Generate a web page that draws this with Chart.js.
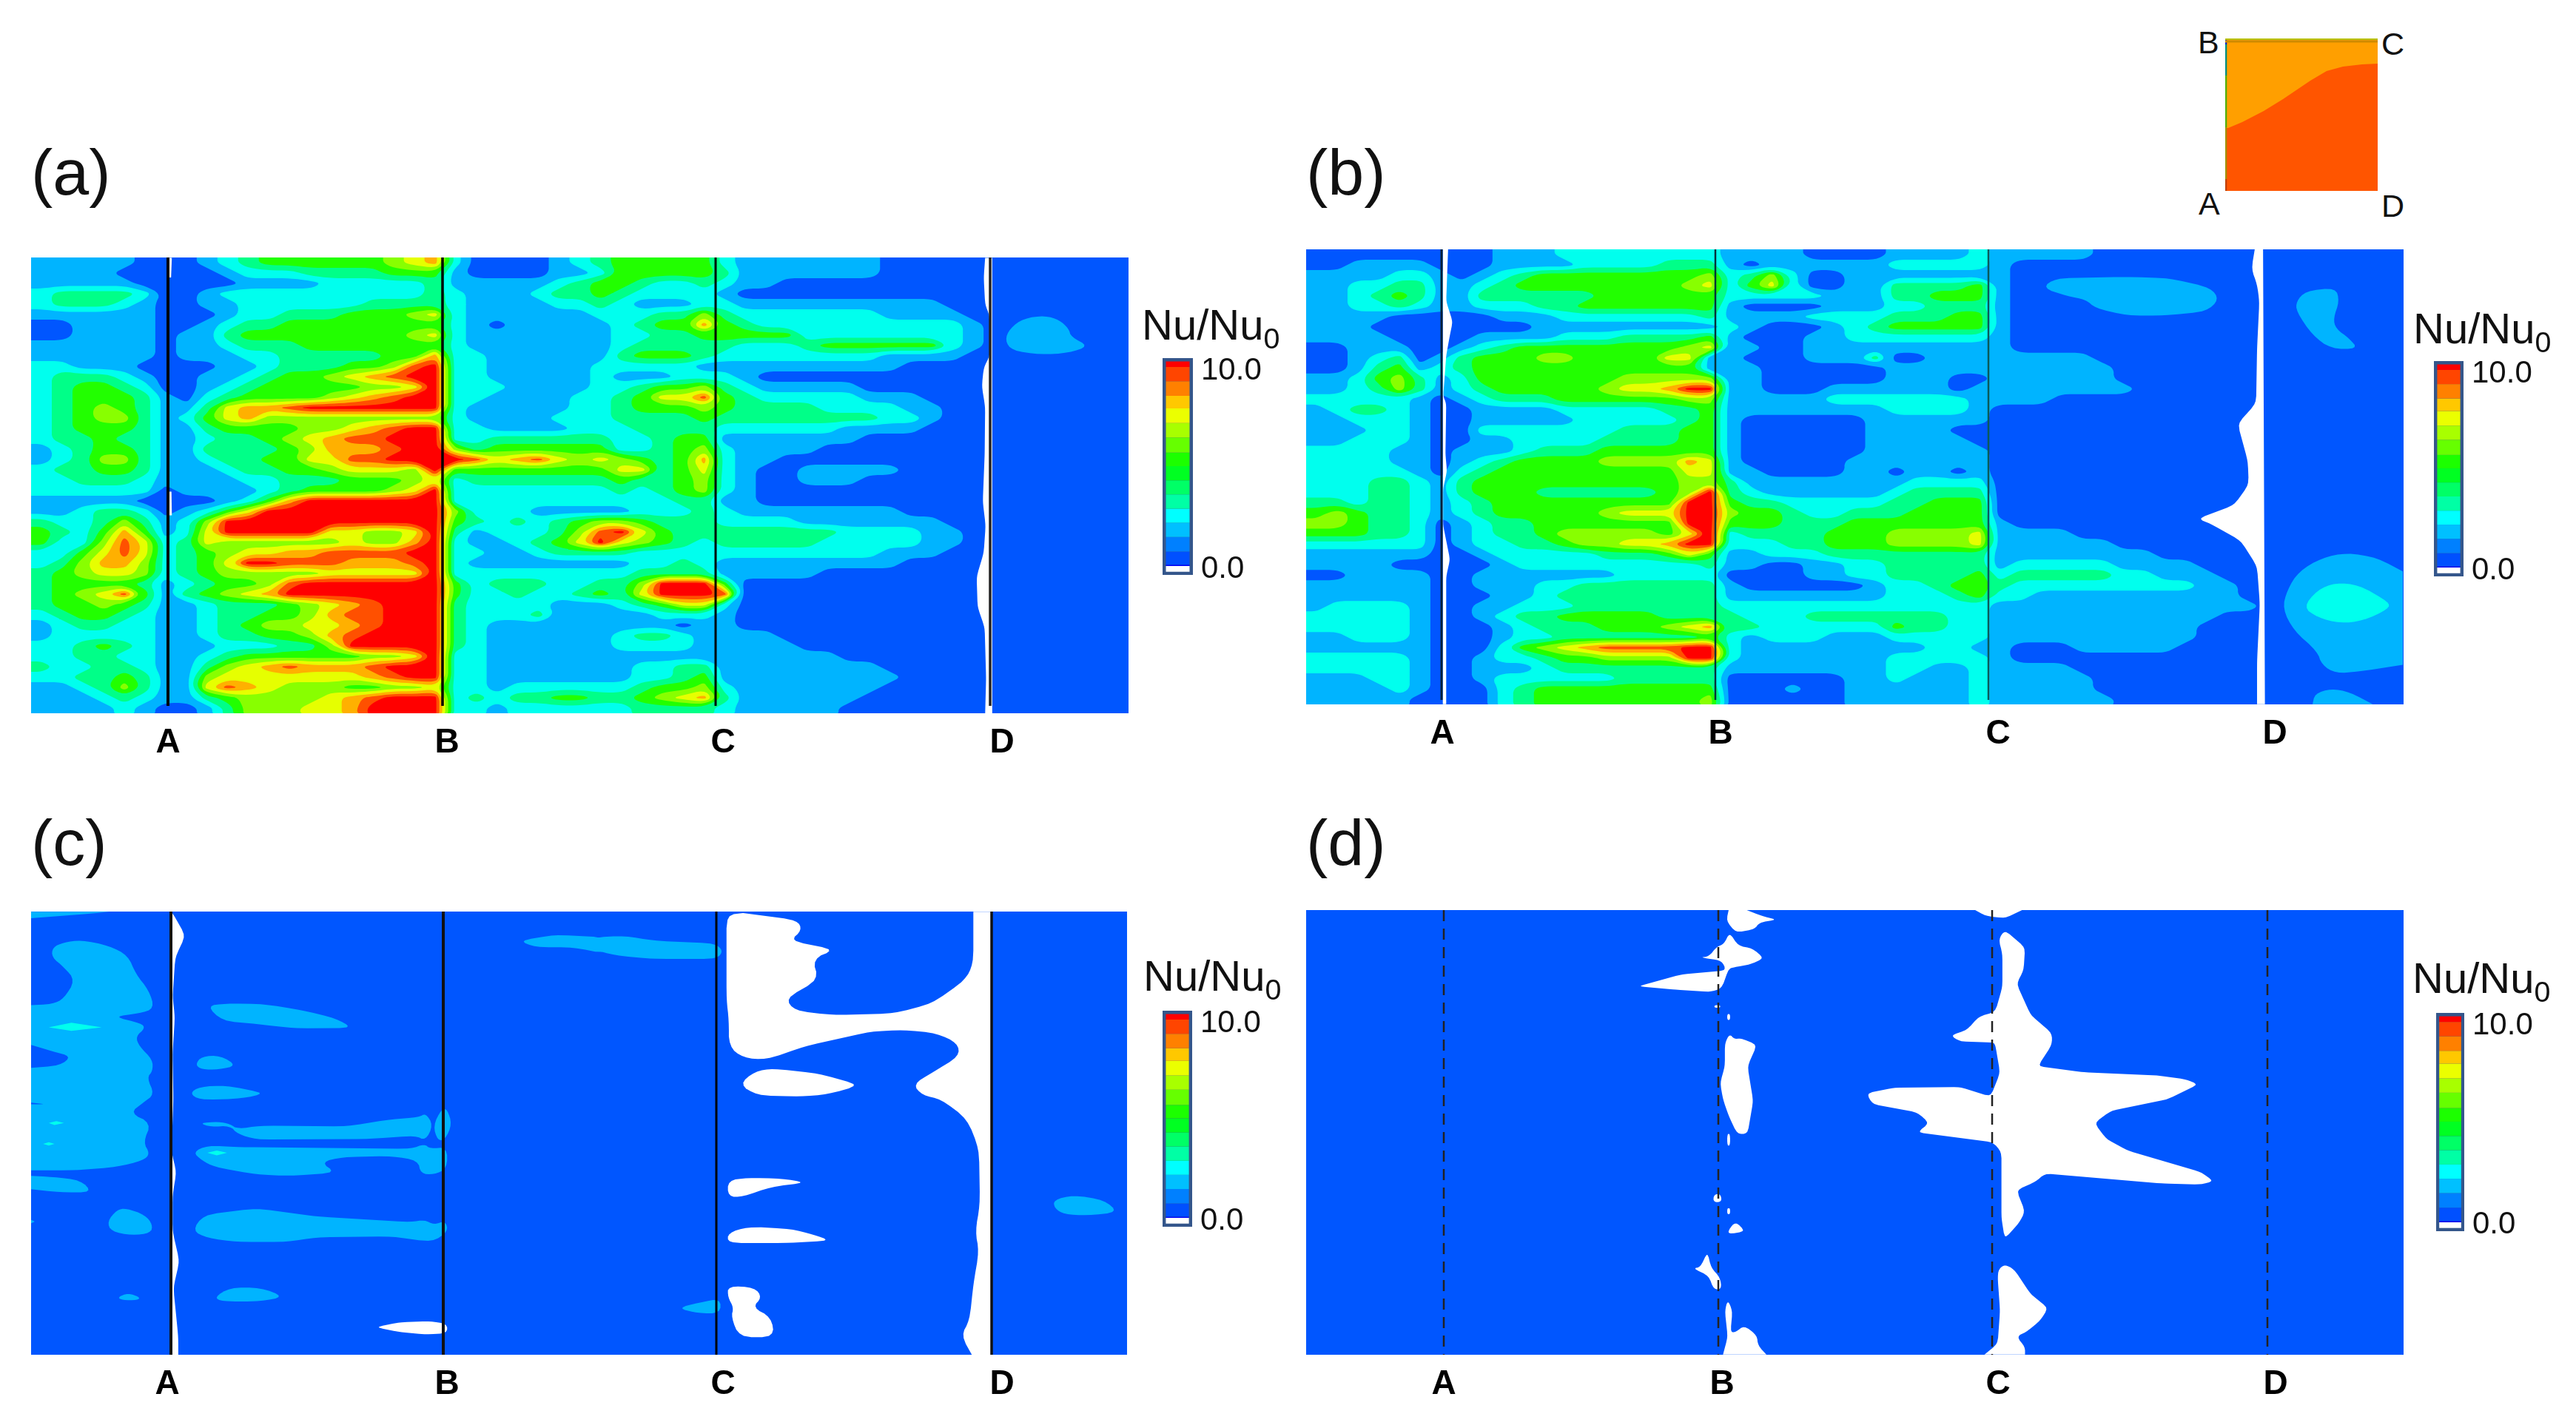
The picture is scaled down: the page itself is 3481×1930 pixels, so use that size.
<!DOCTYPE html>
<html><head><meta charset="utf-8">
<script src="https://cdn.jsdelivr.net/npm/chart.js@4/dist/chart.umd.js"></script>
<style>
html,body{margin:0;padding:0;background:#fff;width:3481px;height:1930px;overflow:hidden;font-family:"Liberation Sans",Arial,sans-serif;color:#111}
canvas{position:absolute;filter:blur(.7px)}
.t{position:absolute;line-height:1;white-space:nowrap}
sub{font-size:.68em;position:relative;top:.3em;vertical-align:baseline;line-height:0}
</style></head><body>
<script>
const levelColors=['#0056ff','#00b4ff','#00ffee','#00ff88','#22ff00','#88ff00','#e6ff00','#ffb000','#ff5000','#ff0000'];
const panelLabels=['A','B','C','D'];

const rowsA=[
"1111100012344444456720000123"+"444442"+"1111111",
"1111000001222333344410000112"+"444443"+"1111111",
"1111100000111122222311111234"+"432232"+"11",
"2333320012222222222321112334"+"32222"+"1",
"2333210011222222333321111223"+"21112"+"2"+"1111111111",
"1111110001223334445621111112"+"22335"+"3"+"22222221111",
"0011110012334444444421011111"+"23447"+"4"+"3"+"2222222222"+"1",
"0011110113444444445621111111"+"22334"+"4"+"444"+"22222222"+"1",
"1111110112333444444421111111"+"23333"+"3"+"222"+"3"+"444444"+"2"+"1",
"1111110111223333344722111111"+"34443"+"2"+"2222222"+"1111",
"2211100001123334458922111112"+"2222"+"1"+"1"+"11111111",
"2333210011234456789922111112"+"11122"+"2"+"1"+"0",
"2344320012344444556922211112"+"23445"+"3"+"2"+"11111",
"2344431023444456789922111122"+"34668"+"4"+"3"+"22222"+"111",
"2345431136778999999921111122"+"34445"+"4"+"3333"+"2222"+"11",
"2345531246755555555521111222"+"33334"+"3"+"3333333"+"22"+"1",
"2344431134444556789922111122"+"23333"+"2"+"22222"+"1111",
"2334331123345678899922333333"+"22344"+"1"+"111111",
"1234431133334577789953444444"+"22345"+"2"+"1111",
"1235531123344668899998678656"+"54347"+"2"+"11",
"2334431112334456665944444444"+"66346"+"2"+"1"+"00"+"11111",
"2233321111223334445623333333"+"43345"+"2"+"1"+"00"+"111",
"2222220111123444456922222222"+"32345"+"2"+"1",
"1111100001247999999922222222"+"22233"+"1"+"1",
"1123320124699999999952221111"+"12223"+"2"+"11111111",
"3223531259999999999943232345"+"54333"+"2"+"222"+"1111111",
"4324741269999966556931222358"+"96433"+"333333"+"2222"+"11",
"4225862365555556557921123469"+"65432"+"33333"+"22222"+"11",
"2246862345667788889922112333"+"32222"+"2"+"2222222"+"111",
"2357752346998887778921111111"+"12232"+"1"+"11111111",
"3456652345555566666922222222"+"23333"+"1"+"1111",
"3444431234458999999942333223"+"35999"+"4",
"3456841345679999999942232234"+"36999"+"8",
"3445431123334567899932222111"+"23466"+"2",
"2344321123344578899932223111"+"11222"+"1",
"1233221123455667899932111111"+"11101"+"1"+"0",
"1222221123344578999932111111"+"23321"+"1"+"11",
"2234321112223359999932111111"+"22221"+"1"+"111",
"2233221123444444556922111111"+"11111"+"111111",
"3223321135678777899922111111"+"12233"+"1"+"1111111",
"2233431156666666789922111111"+"12234"+"1"+"11111111",
"1123531168765554455622122222"+"23445"+"2"+"1111111",
"1112321134555567899923233443"+"34567"+"3"+"111111",
"1111210013555667999922122222"+"23333"+"2"+"11111"
];

const rowsB=[
"0000000001112222222211110000"+"11112"+"1"+"1111",
"0011110001111222233310111111"+"22222"+"1",
"1111221012344444444523520011"+"11111"+"1",
"1122331123444444445624620011"+"33334"+"1",
"1123431133333344444422222111"+"33444"+"1",
"1122321122233444444410000111"+"22333"+"1",
"1111000001112222222311112222"+"33344"+"1",
"1110000000011111111121000123"+"44444"+"1",
"1111000011112223333410001122"+"22222"+"1",
"0011100123444444445611001111"+"11111"+"1",
"0012301344455444466110001113"+"00111"+"11111",
"0013412344444444444111000000"+"11111"+"111111",
"1124531244444445555511000000"+"11100"+"111111",
"1123531234444456679911000111"+"11101"+"1111111",
"2222210123334444445511111222"+"22221"+"1"+"11",
"1233210011112222233411111111"+"22221",
"1122210011111222223410000001"+"11111",
"1112210022222223334410000001"+"11100",
"1122210011222233334410000001"+"11110",
"2222110111233344444410000001"+"11111",
"2222110123444455557610000011"+"11111",
"2222210234444444446611000011"+"01101",
"2223321344444444445531111111"+"12222",
"2223321344433333345932111111"+"23333",
"3323321234444444449943322222"+"33444",
"4543321234444456669954432233"+"34444",
"5543320123344444449944433344"+"44444"+"1",
"4443320123345555546923333444"+"55556"+"1111",
"2222220122334556679922233444"+"55556"+"111111",
"1111110012222233346411222333"+"33333"+"1"+"1111111",
"1111000001222222222311001122"+"33333"+"1"+"22222"+"1111",
"0011110011111112222200001122"+"33334"+"2"+"33333"+"22"+"111",
"1111110011122333333310000001"+"22344"+"3"+"222222222"+"11",
"1111110001123333333311111111"+"22234"+"2"+"2"+"1111111111",
"1222210011222333333322222222"+"22222"+"1"+"111111111111",
"2222210012334444433332223333"+"33322"+"1"+"1111111111",
"2222210001233344456733222222"+"43322"+"1"+"111111111",
"1122210001223333333421222111"+"22222"+"1"+"111111111",
"1111110002456788889921111111"+"11221"+"1"+"000"+"11111",
"2222210012234455559921111111"+"22222"+"1",
"2222210011123333333311111111"+"22112"+"1"+"111",
"1112210012222223333300000011"+"21112"+"1"+"1111",
"1111210002344444444400010011"+"11112"+"1"+"1111",
"1111100002344444444500000011"+"11112"+"1"+"11111"
];

/* irregular shapes: flat x,y lists in crop coordinates */
const islandA=[875,305,885,270,915,240,960,232,990,245,1010,270,1015,295,1053,322,1010,342,950,347,890,335];
const whiteAD=[833,62,830,120,833,200,842,230,843,350,830,385,826,440,833,500,832,640,828,780,834,850,830,930,815,1000,817,1090,832,1150,835,1300,833,1404,848,1404,848,62];
const whiteAA1=[408,62,416,62,414,120,408,120];
const whiteAA2=[408,750,415,750,416,820,408,820];

const islandB1=[415,150,445,122,600,118,690,122,780,150,798,185,770,220,680,232,600,232,530,210,510,185,470,175];
const islandB2=[965,190,985,160,1050,150,1058,190,1045,240,1050,270,1080,300,1098,330,1040,330,1000,290,965,220];
const islandB3=[1195,985,1140,945,1075,930,1020,945,970,985,945,1040,935,1095,960,1160,1010,1220,1020,1260,1050,1285,1100,1280,1195,1260];
const islandB4=[980,1090,1010,1040,1050,1018,1100,1025,1165,1075,1165,1095,1110,1130,1060,1138,1010,1120];
const islandB5=[1000,1376,1005,1345,1040,1330,1080,1340,1130,1376];
const whiteBD=[875,37,868,95,880,140,885,190,880,330,878,490,838,550,860,660,862,730,830,790,752,830,780,845,845,895,880,970,886,1080,880,1250,880,1376,897,1376,893,37];
const whiteBA=[411,37,425,37,420,190,437,250,428,300,420,350,412,470,420,490,418,640,422,690,412,740,412,850,430,950,420,1000,420,1376,411,1376];

const lightC6=[
 [42,72,250,72,180,80,42,92],
 [42,355,100,352,130,335,160,280,130,240,98,210,100,180,130,165,175,158,250,175,300,205,320,260,355,310,370,365,330,380,260,390,335,410,345,425,320,450,330,480,365,520,365,555,350,575,370,625,340,650,305,682,362,712,340,770,358,805,340,825,270,845,160,855,42,855,42,655,85,655,42,650,42,545,120,538,150,510,100,495,42,475],
 [42,872,100,875,175,885,205,922,120,922,42,912],
 [245,1010,270,975,295,970,345,990,365,1020,360,1045,310,1052,255,1040],
 [272,1240,300,1226,332,1240,325,1248,285,1248],
 [42,1005,55,1010,42,1016],
 [508,357,560,350,660,352,760,370,850,395,895,424,740,425,640,412,550,403],
 [478,535,495,510,545,508,588,538,540,550,495,550],
 [463,622,490,602,560,598,665,622,600,638,490,642],
 [488,712,540,708,570,715,590,730,650,720,880,722,1000,700,1070,695,1088,682,1108,718,1088,765,1060,750,940,760,640,762,590,745,570,720,520,724],
 [1108,720,1130,670,1145,670,1158,715,1140,762,1120,765],
 [472,800,510,780,600,785,1050,790,1085,775,1100,790,1145,785,1145,850,1110,868,1075,865,1068,825,1000,812,870,815,810,830,850,862,730,872,640,868,530,845,495,825],
 [470,1038,500,990,640,970,800,995,1050,1012,1085,1005,1110,1020,1140,1008,1148,1040,1105,1073,1000,1055,800,1058,720,1072,590,1072,510,1060],
 [528,1240,570,1210,650,1210,715,1238,650,1252,550,1252],
 [1335,160,1430,142,1568,150,1568,200,1480,180,1380,180]
];
const cyanC6=[[90,422,150,408,230,422,150,433],[90,712,110,706,130,712,105,718],[75,775,90,770,105,775,90,780],[510,802,535,795,562,802,535,810]];
const whiteC6=[
 [955,1330,1020,1315,1100,1312,1145,1320,1145,1348,1090,1352,1020,1345],
 [413,72,420,80,452,145,425,210,418,330,424,390,418,500,420,640,415,800,428,860,418,930,418,1040,436,1130,420,1210,433,1360,433,1414,413,1414]
];
const lightC7=[
 [0,150,70,145,130,160,260,168,278,190,265,215,130,215,50,205,0,185],
 [180,1272,230,1255,272,1243,272,1288,225,1288],
 [978,945,1020,930,1085,945,1115,982,1050,992,1000,988,980,970]
];
const whiteC7=[
 [285,82,320,76,435,98,445,128,420,160,515,187,467,215,480,278,410,335,430,372,510,385,640,380,720,350,790,280,808,230,808,72,845,72,845,1414,805,1414,782,1355,800,1310,808,1200,820,1100,812,1040,822,960,820,790,795,700,740,640,700,628,680,595,720,560,778,510,775,470,730,440,660,430,590,435,450,480,370,520,320,515,290,480,290,400,285,340],
 [312,595,345,555,385,547,480,562,568,597,500,625,440,632,350,628],
 [288,885,330,878,400,880,455,892,380,905,320,935,288,935],
 [288,1045,330,1026,420,1032,470,1050,505,1068,420,1075,288,1075],
 [288,1205,345,1210,360,1240,340,1270,380,1300,386,1360,312,1360,295,1300,300,1270,288,1240]
];
const whiteD8=[
 [370,67,408,67,440,85,472,96,435,105,425,125,385,135,365,100],
 [372,135,390,175,420,183,445,213,415,232,382,240,370,245,355,305,330,315,255,308,178,298,270,262,365,250,355,220,330,215,310,210,328,208,345,178,360,170],
 [340,355,352,355,352,363,340,363],
 [367,382,373,382,373,400,367,400],
 [372,442,382,458,395,455,430,475,410,540,422,645,410,745,388,745,370,690,358,640,352,590,362,540,362,470],
 [367,745,373,745,373,780,367,780],
 [338,930,352,925,356,950,338,952],
 [367,970,373,970,373,988,367,988],
 [370,1035,385,1010,405,1040,370,1048],
 [325,1103,333,1150,352,1180,355,1215,338,1215,328,1175,295,1152,310,1148],
 [368,1247,378,1280,374,1345,385,1345,403,1325,430,1355,432,1385,450,1413,358,1413,368,1360,362,1280],
 [892,67,992,67,955,92,915,85],
 [955,128,998,180,995,250,980,290,1010,385,1055,440,1055,475,1025,540,1120,558,1280,568,1340,580,1365,595,1300,640,1180,675,1145,712,1170,760,1215,795,1370,860,1398,888,1370,898,1290,895,1040,865,1020,890,980,915,998,980,985,1015,955,1062,948,1000,948,800,930,770,770,740,795,712,770,680,675,655,662,622,720,605,860,603,925,632,945,560,935,475,930,468,860,465,840,447,875,430,900,390,935,375,950,300,950,200,942,155],
 [955,1140,975,1155,1010,1230,1047,1272,1030,1310,1000,1345,980,1358,998,1390,998,1413,912,1413,940,1380,945,1280,940,1180,942,1155]
];

const barBounds=[-0.29,0,0.06,0.73,1.46,2.18,2.89,3.61,4.32,5.04,5.72,6.49,7.21,7.95,8.59,9.32,10.04,10.32];
const barColors=['#ffffff','#0000ff','#0050ff','#0080ff','#00c0ff','#00ffff','#00ffa5','#00ff66','#00ff22','#1cff00','#66ff00','#a8ff00','#ebff00','#ffc800','#ff8000','#ff4500','#ff0000'];
const barTicks=[0,10];

const insetLower=[0,121,4,121,23,113,52,98,78,82,115,57,137,44,159,38,185,35,206,34,206,206,0,206];
const insetUpper=[0,0,206,0,206,206,0,206];

/* ---------- helpers ---------- */
function place(c,l,t,w,h){c.width=w;c.height=h;c.style.left=l+'px';c.style.top=t+'px';c.style.width=w+'px';c.style.height=h+'px';document.body.appendChild(c);return c;}
function text(s,l,t,fs,extra){const d=document.createElement('div');d.className='t';d.innerHTML=s;d.style.left=l+'px';d.style.top=t+'px';d.style.fontSize=fs+'px';if(extra)Object.assign(d.style,extra);document.body.appendChild(d);}
function poly(points,color){return{type:'scatter',showLine:true,data:points,fill:'shape',backgroundColor:color,borderWidth:0,borderDash:[1,1],pointRadius:0,pointHoverRadius:0,tension:0};}
function flat(a,mx,my){const r=[];for(let i=0;i<a.length;i+=2)r.push({x:mx(a[i]),y:my(a[i+1])});return r;}
function vline(x,y0,y1,color,width,dash){return{type:'scatter',showLine:true,data:[{x,y:y0},{x,y:y1}],borderColor:color,borderWidth:width,borderDash:dash||[],pointRadius:0,fill:false,tension:0};}
/* Chart.js paints the first dataset last, so paint order is given by reversing */
const paintOrder=ds=>ds.slice().reverse();
/* corner rounding of a closed outline; vertices on the panel edge stay put */
function round(loop,maxCut,W,H,passes){
  let p=loop;
  for(let r=0;r<passes;r++){
    const q=[],n=p.length;
    for(let i=0;i<n;i++){
      const a=p[i],prev=p[(i+n-1)%n],next=p[(i+1)%n];
      if(a.x<=2||a.x>=W-2||a.y<=2||a.y>=H-2){q.push(a);continue;}
      const cut=(b)=>{const d=Math.hypot(b.x-a.x,b.y-a.y)||1,f=Math.min(.25,maxCut/d);return{x:a.x+(b.x-a.x)*f,y:a.y+(b.y-a.y)*f};};
      q.push(cut(prev),cut(next));
    }
    p=q;
  }
  return p;
}
function trace(v,X,Y,t){
  const nxt=new Map,pts=new Map;
  const cp=(j0,i0,j1,i1)=>{const a=v[j0][i0],b=v[j1][i1],f=(t-a)/(b-a);return{x:X[i0]+f*(X[i1]-X[i0]),y:Y[j0]+f*(Y[j1]-Y[j0])};};
  for(let j=0;j<v.length-1;j++)for(let i=0;i<v[0].length-1;i++){
    const c=[[j,i],[j,i+1],[j+1,i+1],[j+1,i]];
    const e=['h'+j+'_'+i,'v'+j+'_'+(i+1),'h'+(j+1)+'_'+i,'v'+j+'_'+i];
    const cr=[];
    for(let k=0;k<4;k++){
      const p=c[k],q=c[(k+1)%4],a=v[p[0]][p[1]]>=t,b=v[q[0]][q[1]]>=t;
      if(a!==b){cr.push({key:e[k],exit:a});pts.set(e[k],cp(p[0],p[1],q[0],q[1]));}
    }
    if(cr.length===2){const ex=cr[0].exit?cr[0]:cr[1],en=cr[0].exit?cr[1]:cr[0];nxt.set(ex.key,en.key);}
    else if(cr.length===4){
      const avg=(v[j][i]+v[j][i+1]+v[j+1][i]+v[j+1][i+1])/4;
      for(let k=0;k<4;k++)if(cr[k].exit){
        const en=avg>=t?cr[(k+1)%4]:cr[(k+3)%4];nxt.set(cr[k].key,en.key);
      }
    }
  }
  const hub={x:-300,y:-300},out=[hub];
  while(nxt.size){
    const s=nxt.keys().next().value;let k=s;let loop=[];
    while(nxt.has(k)){loop.push(pts.get(k));const n=nxt.get(k);nxt.delete(k);k=n;}
    loop=round(loop,100,1e9,1e9,2).map(q=>q);
    loop.push(loop[0]);out.push(...loop,hub);
  }
  return out;
}
function contourDatasets(rows,W,H){
  const n=53,m=rows.length,cw=W/n,rh=H/m;
  const cell=rows.map(r=>{const s=r.padEnd(n,'0').slice(0,n);return Array.from(s,Number);});
  const X=[-80,0],Y=[-80,0];
  for(let i=0;i<n;i++)X.push((i+.5)*cw);X.push(W,W+80);
  for(let j=0;j<m;j++)Y.push((j+.5)*rh);Y.push(H,H+80);
  const v=[];
  const line=a=>[-1,a[0],...a,a[n-1],-1];
  v.push(new Array(n+4).fill(-1));
  v.push(line(cell[0]));
  cell.forEach(a=>v.push(line(a)));
  v.push(line(cell[m-1]));
  v.push(new Array(n+4).fill(-1));
  return levelColors.map((col,L)=>poly(trace(v,X,Y,L-.5),col));
}
function panel(l,t,W,H,ticks,labelH,padTick,datasets){
  const c=place(document.createElement('canvas'),l,t,W,H+labelH);
  new Chart(c,{type:'scatter',data:{datasets:paintOrder(datasets)},options:{
    responsive:false,animation:false,devicePixelRatio:1,layout:{padding:0},
    plugins:{legend:{display:false},tooltip:{enabled:false}},
    scales:{
      x:{type:'linear',min:0,max:W,grid:{display:false},border:{display:false},
        afterBuildTicks:s=>{s.ticks=ticks.map(v=>({value:v}));},
        afterFit:s=>{s.height=labelH;s.paddingLeft=0;s.paddingRight=0;},
        ticks:{autoSkip:false,maxRotation:0,padding:padTick,color:'#000',font:{family:'"Liberation Sans"',size:46,weight:'bold'},callback:v=>panelLabels[ticks.indexOf(v)]}},
      y:{type:'linear',min:0,max:H,reverse:true,display:false}
    }}});
}
function colorbar(l,t,w,h){
  const sideW=130,padT=10,padB=24,c=place(document.createElement('canvas'),l,t-padT,w+sideW,h+padT+padB);
  const ds=[{data:[[-0.45,10.49]],backgroundColor:'#34568b',barPercentage:1,categoryPercentage:1}];
  barColors.forEach((col,i)=>ds.push({data:[[barBounds[i],barBounds[i+1]]],backgroundColor:col,barPercentage:.78,categoryPercentage:1,borderWidth:0}));
  new Chart(c,{type:'bar',data:{labels:['Nu/Nu0'],datasets:paintOrder(ds)},options:{
    responsive:false,animation:false,devicePixelRatio:1,layout:{padding:{top:padT,bottom:padB,left:0,right:0}},
    plugins:{legend:{display:false},tooltip:{enabled:false}},
    scales:{
      x:{stacked:false,display:false},
      y:{position:'right',min:-0.45,max:10.49,grid:{display:false},border:{display:false},
        afterBuildTicks:s=>{s.ticks=barTicks.map(v=>({value:v}));},
        afterFit:s=>{s.width=sideW;s.paddingTop=0;s.paddingBottom=0;},
        ticks:{padding:3,labelOffset:4,color:'#111',autoSkip:false,font:{family:'"Liberation Sans"',size:42},callback:v=>v.toFixed(1)}}
    },
    datasets:{bar:{grouped:false}}}});
}
function zoomMap(x0,w,y0,h,pl,pt){return[z=>x0+z*w/1568-pl,z=>y0+z*h/1568-pt];}
const shape=(a,mx,my,W,H,color,cut=9)=>poly(round(flat(a,mx,my),cut,W,H,2),color);

/* ---------- panel a ---------- */
{const L=42,T=348,W=1483,H=616;
 const [mx,my]=zoomMap(20,800,320,720,L,T),[mx2]=zoomMap(800,1000,320,720,L,T);
 const ds=contourDatasets(rowsA,W,H);
 ds.push(shape(islandA,mx2,my,W,H,levelColors[1]));
 ds.push(shape(whiteAD,mx2,my,W,H,'#fff',4));
 ds.push(poly(flat(whiteAA1,mx,my),'#fff'),poly(flat(whiteAA2,mx,my),'#fff'));
 ds.push(vline(185,0,606,'#000',4),vline(556,0,606,'#000',3.5),vline(925,0,606,'#000',3),vline(1296,0,606,'#222',3.5));
 panel(L,T,W,H,[185,562,935,1312],70,5,ds);
 colorbar(1571,484,41,293);
 text('(a)',42,189,88);
 text('Nu/Nu<sub>0</sub>',1543,410,58);
}
/* ---------- panel b ---------- */
{const L=1765,T=337,W=1483,H=615;
 const [mx,my]=zoomMap(1740,800,320,720,L,T),[mx2]=zoomMap(2500,980,320,720,L,T);
 const ds=contourDatasets(rowsB,W,H);
 [islandB1,islandB2,islandB3,islandB5].forEach(p=>ds.push(shape(p,mx2,my,W,H,levelColors[1])));
 ds.push(shape(islandB4,mx2,my,W,H,levelColors[2]));
 ds.push(shape(whiteBD,mx2,my,W,H,'#fff',5));
 ds.push(shape(whiteBA,mx,my,W,H,'#fff',3));
 ds.push(vline(183,0,609,'#06203a',3),vline(553,0,609,'#06303a',2.5),vline(922,0,609,'#0a5a5a',2.5));
 panel(L,T,W,H,[184,560,935,1309],70,5,ds);
 colorbar(3289,488,40,291);
 text('(b)',1765,189,88);
 text('Nu/Nu<sub>0</sub>',3261,415,58);
}
/* ---------- panel c ---------- */
{const L=42,T=1232,W=1481,H=599;
 const [mx,my]=zoomMap(20,800,1200,700,L,T),[mx2]=zoomMap(800,1000,1200,700,L,T);
 const ds=[poly(flat([0,0,W,0,W,H,0,H],v=>v,v=>v),levelColors[0])];
 lightC6.forEach(p=>ds.push(shape(p,mx,my,W,H,levelColors[1])));
 lightC7.forEach(p=>ds.push(shape(p,mx2,my,W,H,levelColors[1])));
 cyanC6.forEach(p=>ds.push(poly(flat(p,mx,my),levelColors[2])));
 whiteC6.forEach(p=>ds.push(shape(p,mx,my,W,H,'#fff',5)));
 whiteC7.forEach(p=>ds.push(shape(p,mx2,my,W,H,'#fff',9)));
 ds.push(vline(189,-4,H,'#111',4),vline(557,0,H,'#111',4),vline(926,0,H,'#000',3),vline(1298,0,H,'#111',3.5));
 panel(L,T,W,H,[184,562,935,1312],70,5,ds);
 colorbar(1571,1366,40,292);
 text('(c)',42,1095,88);
 text('Nu/Nu<sub>0</sub>',1545,1290,58);
}
/* ---------- panel d ---------- */
{const L=1765,T=1230,W=1483,H=601;
 const [mx,my]=zoomMap(2100,1000,1200,700,L,T);
 const ds=[poly(flat([0,0,W,0,W,H,0,H],v=>v,v=>v),levelColors[0])];
 whiteD8.forEach(p=>ds.push(shape(p,mx,my,W,H,'#fff',4)));
 const dash=[15,10];
 ds.push(vline(186,0,H,'#222',2.5,dash),vline(557,0,H,'#222',2.5,dash),vline(927,0,H,'#222',2.5,dash),vline(1299,0,H,'#222',2.5,dash));
 panel(L,T,W,H,[186,562,935,1310],70,5,ds);
 colorbar(3292,1369,38,295);
 text('(d)',1765,1095,88);
 text('Nu/Nu<sub>0</sub>',3260,1293,58);
}
/* ---------- inset ---------- */
{const S=206,id=v=>v;
 const c=place(document.createElement('canvas'),3007,52,S,S);
 new Chart(c,{type:'scatter',data:{datasets:paintOrder([
   poly(flat(insetUpper,id,id),'#ff9f00'),
   poly(flat(insetLower,id,id),'#ff5500'),
   vline(1,8,50,'#008f80',2.5),vline(1,50,120,'#50b000',2.5),vline(1,120,190,'#a09000',2.5),vline(1,190,206,'#c04000',2.5),vline(1,0,8,'#0020d0',2.5),
   {type:'scatter',showLine:true,data:[{x:0,y:4},{x:206,y:4}],borderColor:'#cf8a00',borderWidth:3,pointRadius:0,fill:false},
   {type:'scatter',showLine:true,data:[{x:0,y:1},{x:206,y:1}],borderColor:'#b8c000',borderWidth:2,pointRadius:0,fill:false}
 ])},options:{responsive:false,animation:false,devicePixelRatio:1,layout:{padding:0},
   plugins:{legend:{display:false},tooltip:{enabled:false}},
   scales:{x:{type:'linear',min:0,max:S,display:false},y:{type:'linear',min:0,max:S,reverse:true,display:false}}}});
 const st={color:'#111'};
 text('B',2970,36,43,st);text('C',3218,38,43,st);text('A',2971,254,43,st);text('D',3218,257,43,st);
}
</script>
</body></html>
